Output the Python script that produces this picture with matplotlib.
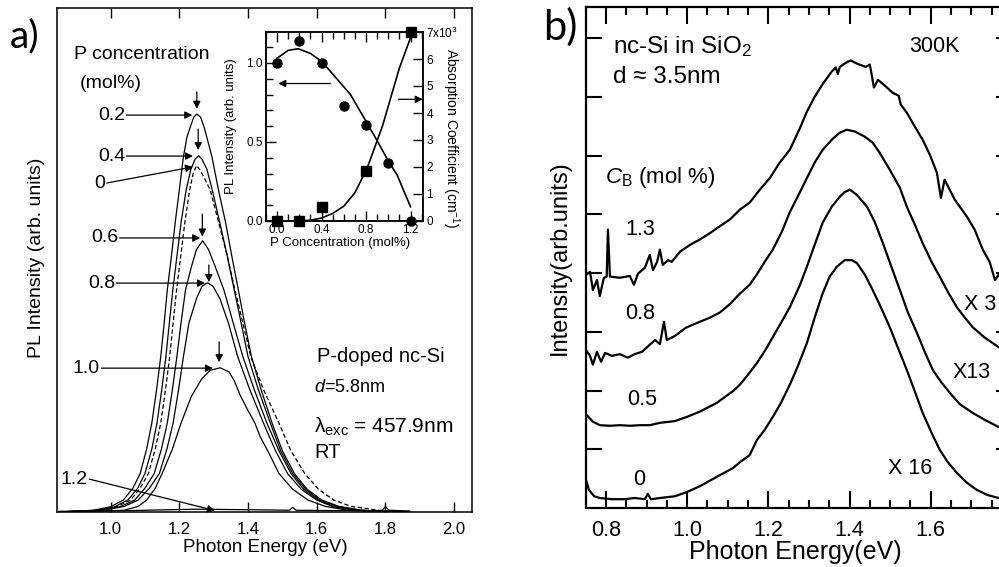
import matplotlib
matplotlib.use("Agg")
import matplotlib.pyplot as plt
from matplotlib.ticker import MultipleLocator, FixedLocator

plt.rcParams['font.family'] = ['Liberation Sans', 'DejaVu Sans']
plt.rcParams['mathtext.fontset'] = 'custom'
plt.rcParams['mathtext.rm'] = 'Liberation Sans'
plt.rcParams['mathtext.it'] = 'Liberation Sans:italic'
plt.rcParams['mathtext.bf'] = 'Liberation Sans:bold'

# ---------------- panel a) PL spectra, P-doped nc-Si ----------------
e_00 = [0.85, 0.965, 1.02, 1.058, 1.086, 1.11, 1.13, 1.146, 1.16, 1.172, 1.182, 1.192, 1.204, 1.216, 1.23, 1.24, 1.25,
        1.262, 1.275, 1.29, 1.315, 1.34, 1.362, 1.385, 1.408, 1.445, 1.49, 1.525, 1.565, 1.605, 1.65, 1.70, 1.78, 1.87]
h_00 = [0.0, 0.005, 0.016, 0.034, 0.068, 0.11, 0.18, 0.254, 0.35, 0.444, 0.54, 0.634, 0.73, 0.826, 0.92, 0.965, 0.99,
        0.975, 0.95, 0.92, 0.826, 0.73, 0.634, 0.54, 0.444, 0.35, 0.254, 0.175, 0.11, 0.065, 0.034, 0.016, 0.005, 0.0]

e_02 = [0.85, 0.95, 1.0, 1.037, 1.065, 1.086, 1.105, 1.12, 1.134, 1.146, 1.156, 1.165, 1.177, 1.188, 1.2, 1.212, 1.222,
        1.232, 1.242, 1.251, 1.262, 1.272, 1.283, 1.295, 1.314, 1.335, 1.353, 1.372, 1.39, 1.41, 1.438, 1.47, 1.5,
        1.535, 1.572, 1.615, 1.665, 1.73, 1.82, 1.87]
h_02 = [0.0, 0.005, 0.015, 0.034, 0.068, 0.11, 0.18, 0.254, 0.35, 0.444, 0.54, 0.634, 0.73, 0.826, 0.92, 1.015, 1.07,
        1.10, 1.128, 1.137, 1.128, 1.10, 1.06, 1.015, 0.92, 0.826, 0.73, 0.634, 0.54, 0.444, 0.35, 0.254, 0.175,
        0.11, 0.065, 0.034, 0.016, 0.005, 0.001, 0.0]

e_04 = [0.85, 0.96, 1.01, 1.05, 1.079, 1.10, 1.12, 1.135, 1.149, 1.161, 1.171, 1.181, 1.193, 1.205, 1.22, 1.234, 1.246,
        1.256, 1.266, 1.28, 1.296, 1.318, 1.34, 1.36, 1.38, 1.40, 1.43, 1.465, 1.495, 1.53, 1.568, 1.61, 1.66, 1.73,
        1.81, 1.87]
h_04 = [0.0, 0.005, 0.014, 0.034, 0.068, 0.11, 0.18, 0.254, 0.35, 0.444, 0.54, 0.634, 0.73, 0.826, 0.92, 0.98, 1.008,
        1.018, 1.008, 0.98, 0.92, 0.826, 0.73, 0.634, 0.54, 0.444, 0.35, 0.254, 0.175, 0.11, 0.065, 0.034, 0.016,
        0.005, 0.001, 0.0]

e_06 = [0.85, 0.97, 1.03, 1.07, 1.10, 1.127, 1.148, 1.165, 1.18, 1.193, 1.205, 1.218, 1.235, 1.25, 1.268,
        1.285, 1.305, 1.33, 1.357, 1.385, 1.418, 1.455, 1.49, 1.525, 1.562, 1.605, 1.65, 1.72, 1.85]
h_06 = [0.0, 0.005, 0.016, 0.034, 0.068, 0.11, 0.18, 0.254, 0.35, 0.444, 0.54, 0.634, 0.70, 0.75, 0.775,
        0.75, 0.70, 0.634, 0.54, 0.444, 0.35, 0.254, 0.175, 0.11, 0.065, 0.034, 0.016, 0.005, 0.0]

e_08 = [0.85, 0.98, 1.04, 1.08, 1.113, 1.142, 1.164, 1.182, 1.198, 1.212, 1.228, 1.25, 1.266, 1.282,
        1.298, 1.318, 1.343, 1.37, 1.405, 1.445, 1.48, 1.515, 1.555, 1.60, 1.645, 1.71, 1.85]
h_08 = [0.0, 0.005, 0.016, 0.034, 0.068, 0.11, 0.18, 0.254, 0.35, 0.444, 0.54, 0.61, 0.645, 0.655,
        0.645, 0.61, 0.54, 0.444, 0.35, 0.254, 0.175, 0.11, 0.065, 0.034, 0.016, 0.005, 0.0]

e_10 = [0.85, 0.95, 1.04, 1.08, 1.105, 1.13, 1.15, 1.18, 1.205, 1.235, 1.265, 1.29, 1.319,
        1.345, 1.36, 1.377, 1.40, 1.42, 1.436, 1.46, 1.49, 1.53, 1.575, 1.625, 1.69, 1.78, 1.87]
h_10 = [0.0, 0.002, 0.005, 0.016, 0.034, 0.068, 0.11, 0.18, 0.254, 0.33, 0.38, 0.405, 0.412,
        0.40, 0.375, 0.334, 0.29, 0.254, 0.214, 0.17, 0.11, 0.065, 0.034, 0.016, 0.005, 0.001, 0.0]

e_12 = [0.85, 0.95, 1.05, 1.15, 1.25, 1.35, 1.45, 1.52, 1.53, 1.54, 1.65, 1.79, 1.80, 1.81, 1.87]
h_12 = [0.002, 0.003, 0.004, 0.006, 0.008, 0.007, 0.006, 0.005, 0.013, 0.005, 0.004, 0.004, 0.016, 0.005, 0.003]

ticks_a = [1.0, 1.2, 1.4, 1.6, 1.8, 2.0]

# inset: PL intensity and absorption vs P concentration
conc_pts = [0.0, 0.2, 0.4, 0.6, 0.8, 1.0, 1.2]
pl_int = [1.0, 1.14, 1.0, 0.73, 0.61, 0.37, 0.0]
abs_conc = [0.0, 0.2, 0.4, 0.8, 1.2]
abs_coef = [0.0, 0.0, 0.52, 1.85, 7.0]
fit_pl_x = [0.0, 0.1, 0.19, 0.3, 0.4, 0.5, 0.66, 0.8, 0.89, 1.0, 1.08, 1.2]
fit_pl_y = [1.03, 1.08, 1.09, 1.06, 1.01, 0.93, 0.80, 0.63, 0.52, 0.38, 0.29, 0.09]
fit_abs_x = [0.2, 0.3, 0.4, 0.5, 0.6, 0.7, 0.81, 0.95, 1.1, 1.21]
fit_abs_y = [0.0, 0.03, 0.11, 0.28, 0.55, 1.05, 1.96, 3.55, 5.67, 6.9]

# ---------------- panel b) PL spectra, B-doped nc-Si ----------------
e_b13 = [0.751, 0.761, 0.768, 0.778, 0.785, 0.795, 0.802, 0.805, 0.81, 0.834, 0.859, 0.869, 0.879, 0.896, 0.908,
         0.916, 0.926, 0.933, 0.94, 0.953, 0.962, 0.982, 1.007, 1.031, 1.056, 1.081, 1.105, 1.13, 1.154, 1.179,
         1.204, 1.228, 1.253, 1.278, 1.295, 1.314, 1.334, 1.356, 1.366, 1.371, 1.376, 1.391, 1.403, 1.42, 1.44,
         1.45, 1.46, 1.47, 1.487, 1.506, 1.521, 1.526, 1.541, 1.561, 1.58, 1.598, 1.615, 1.625, 1.634, 1.659,
         1.689, 1.708, 1.728, 1.745, 1.758, 1.767, 1.782]
i_b13 = [3.97, 4.02, 3.71, 3.88, 3.61, 3.92, 3.94, 4.74, 3.94, 3.92, 3.95, 3.80, 3.99, 4.09, 4.31,
         4.05, 4.19, 4.40, 4.14, 4.22, 4.19, 4.36, 4.48, 4.57, 4.68, 4.80, 4.91, 5.08, 5.20, 5.42,
         5.62, 5.88, 6.10, 6.47, 6.75, 7.00, 7.22, 7.43, 7.50, 7.39, 7.51, 7.58, 7.62, 7.56, 7.51,
         7.55, 7.16, 7.29, 7.19, 7.07, 7.02, 6.87, 6.73, 6.49, 6.27, 6.01, 5.71, 5.28, 5.59, 5.25,
         4.96, 4.74, 4.40, 4.19, 3.88, 3.97, 3.80]

e_b08 = [0.751, 0.761, 0.768, 0.778, 0.788, 0.798, 0.815, 0.834, 0.854, 0.871, 0.889, 0.908, 0.921, 0.933, 0.943,
         0.95, 0.97, 0.997, 1.031, 1.056, 1.081, 1.105, 1.13, 1.154, 1.172, 1.191, 1.211, 1.233, 1.253, 1.278,
         1.295, 1.314, 1.334, 1.359, 1.376, 1.393, 1.413, 1.438, 1.457, 1.474, 1.499, 1.524, 1.541, 1.561, 1.58,
         1.602, 1.622, 1.642, 1.664, 1.684, 1.703, 1.733, 1.767, 1.79]
i_b08 = [2.69, 2.59, 2.44, 2.66, 2.49, 2.64, 2.59, 2.62, 2.56, 2.62, 2.66, 2.78, 2.86, 2.79, 3.17,
         2.86, 2.93, 3.07, 3.17, 3.24, 3.33, 3.47, 3.65, 3.80, 3.98, 4.19, 4.40, 4.70, 5.04, 5.38,
         5.62, 5.88, 6.10, 6.29, 6.39, 6.44, 6.41, 6.32, 6.22, 6.05, 5.76, 5.45, 5.13, 4.82, 4.51,
         4.19, 3.94, 3.68, 3.42, 3.24, 3.08, 2.90, 2.74, 2.66]

e_b05 = [0.753, 0.768, 0.785, 0.81, 0.834, 0.859, 0.884, 0.908, 0.933, 0.97, 0.999, 1.031, 1.073, 1.113, 1.13,
         1.15, 1.172, 1.191, 1.211, 1.231, 1.253, 1.278, 1.295, 1.314, 1.334, 1.356, 1.376, 1.388, 1.401, 1.418,
         1.443, 1.462, 1.482, 1.504, 1.524, 1.543, 1.566, 1.585, 1.605, 1.627, 1.647, 1.671, 1.703, 1.733, 1.767,
         1.79]
i_b05 = [1.58, 1.47, 1.41, 1.40, 1.41, 1.40, 1.41, 1.41, 1.45, 1.48, 1.55, 1.64, 1.79, 1.99, 2.10,
         2.27, 2.47, 2.67, 2.91, 3.15, 3.42, 3.80, 4.11, 4.48, 4.86, 5.13, 5.30, 5.38, 5.42, 5.33,
         5.13, 4.87, 4.51, 4.09, 3.71, 3.34, 2.98, 2.66, 2.35, 2.13, 1.96, 1.77, 1.62, 1.50, 1.38,
         1.31]

e_b00 = [0.751, 0.758, 0.771, 0.785, 0.815, 0.847, 0.871, 0.896, 0.903, 0.911, 0.933, 0.97, 0.999, 1.031, 1.073,
         1.113, 1.13, 1.154, 1.172, 1.191, 1.211, 1.231, 1.253, 1.273, 1.295, 1.314, 1.334, 1.351, 1.369, 1.388,
         1.406, 1.418, 1.438, 1.457, 1.477, 1.499, 1.519, 1.541, 1.561, 1.58, 1.602, 1.622, 1.642, 1.664, 1.689,
         1.713, 1.74, 1.767, 1.79]
i_b00 = [0.48, 0.31, 0.20, 0.17, 0.15, 0.15, 0.17, 0.15, 0.24, 0.15, 0.17, 0.20, 0.27, 0.37, 0.53,
         0.68, 0.78, 0.90, 1.16, 1.33, 1.55, 1.79, 2.10, 2.42, 2.81, 3.24, 3.66, 3.94, 4.11, 4.22,
         4.22, 4.17, 3.97, 3.71, 3.42, 3.08, 2.73, 2.35, 1.98, 1.62, 1.28, 0.99, 0.78, 0.60, 0.43,
         0.31, 0.22, 0.17, 0.14]

ticks_b = [0.8, 1.0, 1.2, 1.4, 1.6]

W, H = 999, 567


def rect(l, t, r, b):
    return [l / W, 1 - b / H, (r - l) / W, (b - t) / H]


def fpos(x, y):
    return x / W, 1 - y / H


fig = plt.figure(figsize=(W / 100, H / 100), dpi=100)

# ===== panel a =====
ax = fig.add_axes(rect(57, 8, 472, 512))
ax.plot(e_02, h_02, color='k', lw=0.9)
ax.plot(e_04, h_04, color='k', lw=0.9)
ax.plot(e_00, h_00, color='k', lw=0.9, dashes=(3.5, 2))
ax.plot(e_06, h_06, color='k', lw=0.9)
ax.plot(e_08, h_08, color='k', lw=0.9)
ax.plot(e_10, h_10, color='k', lw=0.9)
ax.plot(e_12, h_12, color='k', lw=0.9)
ax.set_xlim(0.844, 2.052)
ax.set_ylim(0, 1.44)
ax.set_xticks(ticks_a)
ax.set_xticklabels(['%.1f' % t for t in ticks_a])
ax.set_yticks([])
ax.tick_params(axis='x', direction='in', length=7, width=1, top=True, labelsize=12, pad=7)
for s in ax.spines.values():
    s.set_linewidth(1.1)

arr = dict(arrowstyle='-|>', color='k', lw=0.9, mutation_scale=11, shrinkA=0, shrinkB=0)
lab = dict(fontsize=14, ha='right', va='center')
# label arrows (text position -> curve peak)
for txt, xt, yt, xh, yh in [('0.2', 1.042, 1.134, 1.238, 1.134),
                            ('0.4', 1.042, 1.017, 1.240, 1.017),
                            ('0', 0.985, 0.94, 1.240, 0.986),
                            ('0.6', 1.022, 0.783, 1.261, 0.783),
                            ('0.8', 1.013, 0.654, 1.275, 0.654),
                            ('1.0', 0.969, 0.411, 1.298, 0.411),
                            ('1.2', 0.934, 0.094, 1.304, 0.004)]:
    ax.text(xt, yt, txt, **lab)
    ax.annotate('', xy=(xh, yh), xytext=(xt + 0.004, yt), arrowprops=arr)
# down arrows on peaks
for xp, y0, y1 in [(1.251, 1.20, 1.152), (1.255, 1.094, 1.034), (1.267, 0.851, 0.787),
                   (1.286, 0.706, 0.657), (1.316, 0.486, 0.428)]:
    ax.annotate('', xy=(xp, y1), xytext=(xp, y0), arrowprops=arr)

ax.text(0.894, 1.306, 'P concentration', fontsize=14, ha='left', va='center')
ax.text(0.911, 1.223, '(mol%)', fontsize=14, ha='left', va='center')
ax.text(1.601, 0.443, 'P-doped nc-Si', fontsize=14.5, ha='left', va='center')
ax.text(1.592, 0.357, '$d$=5.8nm', fontsize=13, ha='left', va='center')
ax.text(1.592, 0.243, 'λ$_{\\mathrm{exc}}$ = 457.9nm', fontsize=15, ha='left', va='center')
ax.text(1.592, 0.169, 'RT', fontsize=14.5, ha='left', va='center')

fig.text(*fpos(265, 548), 'Photon Energy (eV)', fontsize=13.5, ha='center', va='center')
fig.text(*fpos(37, 258), 'PL Intensity (arb. units)', fontsize=14, ha='center', va='center', rotation=90)
fig.text(*fpos(10, 47), 'a)', fontsize=28, family=['Lato', 'DejaVu Sans'], ha='left', va='baseline')

# ===== inset =====
ins = fig.add_axes(rect(266, 32, 423, 221))
ins.plot(fit_pl_x, fit_pl_y, color='k', lw=1.2)
ins.plot(conc_pts, pl_int, 'o', color='k', ms=6.5, clip_on=False)
ins.set_xlim(-0.1, 1.312)
ins.set_ylim(0, 1.196)
ins.xaxis.set_major_locator(FixedLocator([0.0, 0.4, 0.8, 1.2]))
ins.xaxis.set_minor_locator(MultipleLocator(0.1))
ins.yaxis.set_major_locator(FixedLocator([0.0, 0.5, 1.0]))
ins.yaxis.set_minor_locator(MultipleLocator(0.1))
ins.set_xticklabels(['0.0', '0.4', '0.8', '1.2'])
ins.set_yticklabels(['0.0', '0.5', '1.0'])
ins.tick_params(which='both', direction='in', top=True, labelsize=8.5, pad=2.5, width=1)
ins.tick_params(which='major', length=7)
ins.tick_params(which='minor', length=5)
ins.annotate('', xy=(0.01, 0.87), xytext=(0.48, 0.87), arrowprops=arr)
ins.annotate('', xy=(1.31, 0.77), xytext=(1.09, 0.77), arrowprops=arr)
for s in ins.spines.values():
    s.set_linewidth(1.1)

ins2 = ins.twinx()
ins2.plot(fit_abs_x, fit_abs_y, color='k', lw=1.2)
ins2.plot(abs_conc, abs_coef, 's', color='k', ms=7.5, clip_on=False)
ins2.set_ylim(0, 7)
ins2.set_yticks(range(8))
ins2.set_yticklabels(['0', '1', '2', '3', '4', '5', '6', '7x10$^3$'])
ins2.tick_params(direction='in', length=7, width=1, labelsize=8.5, pad=2.5)
for s in ins2.spines.values():
    s.set_linewidth(1.1)
ins.tick_params(axis='y', right=False, which='both')

fig.text(*fpos(340, 243), 'P Concentration (mol%)', fontsize=9.5, ha='center', va='center')
fig.text(*fpos(231, 126), 'PL Intensity (arb. units)', fontsize=9.5, ha='center', va='center', rotation=90)
fig.text(*fpos(451, 138), 'Absorption Coefficient (cm$^{-1}$)', fontsize=10, ha='center', va='center',
         rotation=270)

# ===== panel b =====
bx = fig.add_axes(rect(586, 7, 1012, 508))
for ee, ii in [(e_b13, i_b13), (e_b08, i_b08), (e_b05, i_b05), (e_b00, i_b00)]:
    bx.plot(ee, ii, color='k', lw=1.6)
bx.set_xlim(0.751, 1.8)
bx.set_ylim(0, 8.53)
bx.xaxis.set_major_locator(FixedLocator(ticks_b + [1.8]))
bx.xaxis.set_minor_locator(MultipleLocator(0.05))
bx.set_xticklabels(['%.1f' % t for t in ticks_b] + [''])
bx.yaxis.set_major_locator(FixedLocator(list(range(1, 9))))
bx.set_yticklabels([])
bx.tick_params(which='both', direction='in', top=True, right=True, width=1.5, labelsize=15.5, pad=9)
bx.tick_params(which='major', length=12)
bx.tick_params(which='minor', length=6)
bx.tick_params(axis='y', length=11.5)
for s in bx.spines.values():
    s.set_linewidth(1.6)

bx.text(0.817, 7.85, 'nc-Si in SiO$_2$', fontsize=17.5, ha='left', va='center')
bx.text(0.817, 7.34, 'd ≈ 3.5nm', fontsize=17.5, ha='left', va='center')
bx.text(1.610, 7.85, '300K', fontsize=15.5, ha='center', va='center')
bx.text(0.798, 5.62, '$C_{\\mathrm{B}}$ (mol %)', fontsize=16, ha='left', va='center')
for txt, xt, yt in [('1.3', 0.884, 4.74), ('0.8', 0.884, 3.32), ('0.5', 0.889, 1.84), ('0', 0.881, 0.48),
                    ('X 3', 1.721, 3.46), ('X13', 1.701, 2.30), ('X 16', 1.548, 0.68)]:
    bx.text(xt, yt, txt, fontsize=15.5, ha='center', va='center')

fig.text(*fpos(795, 552), 'Photon Energy(eV)', fontsize=18, ha='center', va='center')
fig.text(*fpos(560, 258), 'Intensity(arb.units)', fontsize=17, ha='center', va='center', rotation=90)
fig.text(*fpos(543, 40), 'b)', fontsize=30, family=['Lato', 'DejaVu Sans'], ha='left', va='baseline')

fig.savefig('out.png', dpi=100)
